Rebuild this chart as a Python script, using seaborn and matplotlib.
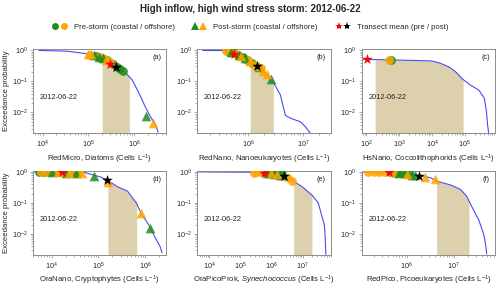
import matplotlib
matplotlib.use("Agg")
import matplotlib.pyplot as plt
from matplotlib.legend_handler import HandlerTuple
from matplotlib.lines import Line2D
import seaborn as sns
import numpy as np
import pandas as pd

sns.set_style("ticks")
plt.rcParams["font.family"] = ["Liberation Sans", "DejaVu Sans"]
plt.rcParams["mathtext.fontset"] = "custom"
plt.rcParams["mathtext.rm"] = "Liberation Sans"
plt.rcParams["mathtext.it"] = "Liberation Sans:italic"

DATE = "2012-06-22"
TITLE = "High inflow, high wind stress storm: " + DATE
PANEL_TAGS = ["(a)", "(b)", "(c)", "(d)", "(e)", "(f)"]
XLABELS = [
    "RedMicro, Diatoms (Cells L$^{-1}$)",
    "RedNano, Nanoeukaryotes (Cells L$^{-1}$)",
    "HsNano, Coccolithophorids (Cells L$^{-1}$)",
    "OraNano, Cryptophytes (Cells L$^{-1}$)",
    "OraPicoProk, $\\it{Synechococcus}$ (Cells L$^{-1}$)",
    "RedPico, Picoeukaryotes (Cells L$^{-1}$)",
]
XLIMS = [(6.2e3, 5e6), (1.2e5, 3.2e7), (71, 8.4e5),
         (4e3, 2.85e6), (4.2e3, 8e7), (1.1e5, 7.5e7)]

# exceedance curve (climatology) per panel
CURVE_X = [
    [8.4e3, 3.4e4, 1e5, 1.9e5, 3.1e5, 4.7e5, 6.9e5, 9e5, 1.15e6, 1.4e6, 1.7e6, 2.2e6, 2.9e6, 3.3e6],
    [1.5e5, 3.9e5, 5.1e5, 7.8e5, 1.1e6, 1.46e6, 2.07e6, 2.65e6, 3.1e6, 3.9e6, 4.8e6, 5.9e6, 8.9e6, 1.1e7, 1.35e7],
    [71, 1e3, 1e4, 1.8e4, 3.3e4, 5.3e4, 8.4e4, 1.5e5, 2.7e5, 4e5, 4.6e5, 5e5, 5.4e5],
    [4e3, 4.9e4, 1.1e5, 1.5e5, 2.5e5, 4.2e5, 6.5e5, 8.6e5, 1.03e6, 1.24e6, 1.6e6, 2.1e6, 2.3e6],
    [4.2e3, 4e5, 1.35e6, 3.5e6, 5.1e6, 9.5e6, 2e7, 3.2e7, 4.1e7, 5e7, 5.3e7, 5.6e7],
    [1.1e5, 1e6, 3.2e6, 4.4e6, 8.5e6, 1.4e7, 1.9e7, 2.4e7, 3.4e7, 4.3e7, 4.7e7, 5e7],
]
CURVE_Y = [
    [0.98, 0.93, 0.76, 0.57, 0.39, 0.27, 0.17, 0.11, 0.055, 0.03, 0.016, 0.0076, 0.004, 0.0023],
    [0.98, 0.97, 0.93, 0.69, 0.44, 0.31, 0.19, 0.12, 0.075, 0.036, 0.008, 0.0065, 0.005, 0.0035, 0.0022],
    [0.51, 0.48, 0.45, 0.38, 0.29, 0.2, 0.12, 0.075, 0.052, 0.028, 0.0105, 0.0039, 0.002],
    [1.0, 0.97, 0.69, 0.56, 0.34, 0.24, 0.1, 0.04, 0.028, 0.018, 0.0083, 0.0039, 0.0025],
    [1.0, 0.97, 0.9, 0.7, 0.5, 0.34, 0.18, 0.1, 0.04, 0.02, 0.009, 0.0022],
    [1.0, 0.89, 0.65, 0.5, 0.38, 0.27, 0.16, 0.077, 0.028, 0.01, 0.005, 0.0023],
]
# shaded range per panel
SHADE_LO = [2e5, 1.1e6, 183, 1.6e5, 5.2e6, 4.3e6]
SHADE_HI = [7.8e5, 2.9e6, 8.9e4, 6.6e5, 2e7, 2.1e7]

# samples: pre-storm coastal / offshore, post-storm coastal / offshore
PRE_COAST_X = [
    [1.5e5, 2.0e5, 2.6e5, 3.4e5, 4.3e5, 5.0e5, 5.6e5],
    [4.5e5, 5.5e5, 6.5e5, 8.0e5, 9.5e5, 1.2e6],
    [560],
    [5.5e3, 7e3, 9e3, 1.3e4, 2.2e4, 3.0e4],
    [8e5, 1.1e6, 1.6e6, 2.2e6],
    [4.5e5, 6e5, 8e5, 1.1e6],
]
PRE_COAST_Y = [
    [0.65, 0.56, 0.47, 0.37, 0.29, 0.25, 0.21],
    [0.9, 0.82, 0.72, 0.6, 0.5, 0.38],
    [0.47],
    [1.0, 0.99, 0.98, 0.97, 0.95, 0.93],
    [0.93, 0.91, 0.88, 0.84],
    [0.97, 0.95, 0.93, 0.9],
]
PRE_OFF_X = [
    [1.1e5, 1.8e5, 2.3e5, 3.0e5],
    [4.0e5, 4.8e5, 6.0e5, 1.0e6, 1.3e6, 1.7e6],
    [470],
    [6e3, 8e3, 1.1e4, 1.6e4, 2.6e4, 3.6e4],
    [2.7e5, 3.5e5, 4.6e5, 3.5e6, 4.5e6],
    [1.5e5, 2e5, 2.6e5, 3.3e5, 5.2e5],
]
PRE_OFF_Y = [
    [0.72, 0.6, 0.52, 0.42],
    [0.93, 0.88, 0.78, 0.48, 0.34, 0.26],
    [0.47],
    [0.99, 0.98, 0.97, 0.96, 0.94, 0.92],
    [0.93, 0.96, 0.97, 0.62, 0.52],
    [0.97, 0.98, 0.96, 0.97, 0.95],
]
POST_COAST_X = [
    [1.3e5, 1.7e5, 2.1e5, 1.8e6],
    [5.0e5, 7.0e5, 9.0e5, 1.6e6, 2.6e6],
    [],
    [1.0e4, 2.0e4, 3.3e4, 8e4, 1.27e6],
    [7e5, 9e5, 1.3e6, 1.9e6, 2.4e6],
    [7e5, 9e5, 1.3e6, 1.5e6],
]
POST_COAST_Y = [
    [0.7, 0.62, 0.55, 0.0075],
    [0.87, 0.68, 0.55, 0.28, 0.12],
    [],
    [0.98, 0.95, 0.92, 0.76, 0.016],
    [0.95, 0.9, 0.87, 0.82, 0.78],
    [0.93, 0.9, 0.82, 0.8],
]
POST_OFF_X = [
    [1.0e5, 1.15e5, 2.4e5, 2.5e6],
    [7.5e5, 1.1e6, 1.5e6, 1.9e6, 2.2e6],
    [],
    [1.4e4, 2.4e4, 4.5e4, 1.6e5, 8.1e5],
    [1.0e6, 1.5e6],
    [1.0e6, 2.5e6, 3.9e6],
]
POST_OFF_Y = [
    [0.78, 0.74, 0.5, 0.0045],
    [0.64, 0.44, 0.3, 0.22, 0.17],
    [],
    [0.97, 0.94, 0.9, 0.46, 0.047],
    [0.89, 0.85],
    [0.88, 0.7, 0.59],
]
# transect means (pre, post)
PRE_MEAN_X = [3.0e5, 5.6e5, 102, 1.7e4, 6e5, 4.2e5]
PRE_MEAN_Y = [0.37, 0.75, 0.51, 0.96, 0.95, 0.97]
POST_MEAN_X = [4.0e5, 1.47e6, None, 1.5e5, 2.6e6, 1.8e6]
POST_MEAN_Y = [0.28, 0.31, None, 0.56, 0.76, 0.76]

GREEN = "#1e8c1e"
ORANGE = "#ffa500"
LINE_BLUE = "#4b4bf0"
SHADE = "#ddd0ac"
SPINE = "#8c8c8c"
FS = 5.6

fig, axes = plt.subplots(2, 3, figsize=(5.0, 2.86), dpi=100)
fig.subplots_adjust(left=0.066, right=0.99, bottom=0.108, top=0.829,
                     wspace=0.232, hspace=0.44)

for i, ax in enumerate(axes.flat):
    cx = np.array(CURVE_X[i])
    cy = np.array(CURVE_Y[i])
    ax.set_xscale("log")
    ax.set_yscale("log")
    ymin = 0.0021
    # shade under the curve within the range
    lo, hi = SHADE_LO[i], SHADE_HI[i]
    inside = (cx > lo) & (cx < hi)
    fx = np.concatenate([[lo], cx[inside], [hi]])
    fy = np.concatenate([[10 ** np.interp(np.log10(lo), np.log10(cx), np.log10(cy))],
                         cy[inside],
                         [10 ** np.interp(np.log10(hi), np.log10(cx), np.log10(cy))]])
    ax.fill_between(fx, ymin, fy, color=SHADE, lw=0, zorder=1)

    df = pd.DataFrame({"x": cx, "y": cy})
    sns.lineplot(data=df, x="x", y="y", ax=ax, sort=False, color=LINE_BLUE,
                 lw=0.8, zorder=2)

    groups = [
        (PRE_COAST_X[i], PRE_COAST_Y[i], GREEN, "o", 40),
        (PRE_OFF_X[i], PRE_OFF_Y[i], ORANGE, "o", 40),
        (POST_COAST_X[i], POST_COAST_Y[i], GREEN, "^", 48),
        (POST_OFF_X[i], POST_OFF_Y[i], ORANGE, "^", 48),
    ]
    for gx, gy, col, mk, sz in groups:
        if len(gx) == 0:
            continue
        sns.scatterplot(x=gx, y=gy, ax=ax, color=col, marker=mk, s=sz,
                        linewidth=0, alpha=0.85, zorder=3)
    sns.scatterplot(x=[PRE_MEAN_X[i]], y=[PRE_MEAN_Y[i]], ax=ax, color="red",
                    marker="*", s=65, linewidth=0, zorder=4)
    if POST_MEAN_X[i] is not None:
        sns.scatterplot(x=[POST_MEAN_X[i]], y=[POST_MEAN_Y[i]], ax=ax,
                        color="black", marker="*", s=65, linewidth=0, zorder=4)

    ax.set_xlim(*XLIMS[i])
    ax.set_ylim(ymin, 1.1)
    ax.set_yticks([1e-2, 1e-1, 1e0])
    ax.set_xlabel(XLABELS[i], fontsize=FS, labelpad=1.5)
    if i % 3 == 0:
        ax.set_ylabel("Exceedance probability", fontsize=FS, labelpad=1.5)
    else:
        ax.set_ylabel("")
    ax.tick_params(which="both", labelsize=FS - 0.4, color=SPINE, width=0.5,
                   pad=1.5, direction="out")
    ax.tick_params(which="major", length=2.5)
    ax.tick_params(which="minor", length=1.5)
    for sp in ax.spines.values():
        sp.set_visible(True)
        sp.set_color(SPINE)
        sp.set_linewidth(0.7)
    ax.text(0.05, 0.42, DATE, transform=ax.transAxes, fontsize=FS - 0.3,
            color="#222222", va="center")
    ax.text(0.96, 0.9, PANEL_TAGS[i], transform=ax.transAxes, fontsize=FS - 0.3,
            ha="right", va="center", color="#222222")

fig.suptitle(TITLE, fontsize=7, fontweight="bold", y=0.985)

def mk(col, m, ms):
    return Line2D([], [], color=col, marker=m, ls="", ms=ms, mew=0)

handles = [(mk(GREEN, "o", 5), mk(ORANGE, "o", 5)),
           (mk(GREEN, "^", 5.5), mk(ORANGE, "^", 5.5)),
           (mk("red", "*", 6), mk("black", "*", 6))]
labels = ["Pre-storm (coastal / offshore)", "Post-storm (coastal / offshore)",
          "Transect mean (pre / post)"]
fig.legend(handles, labels, handler_map={tuple: HandlerTuple(ndivide=None, pad=0.1)},
           loc="center", bbox_to_anchor=(0.5, 0.905), ncol=3, frameon=False,
           fontsize=FS, handlelength=2.0, columnspacing=2.2, handletextpad=0.8)

fig.savefig("out.png", dpi=100)
